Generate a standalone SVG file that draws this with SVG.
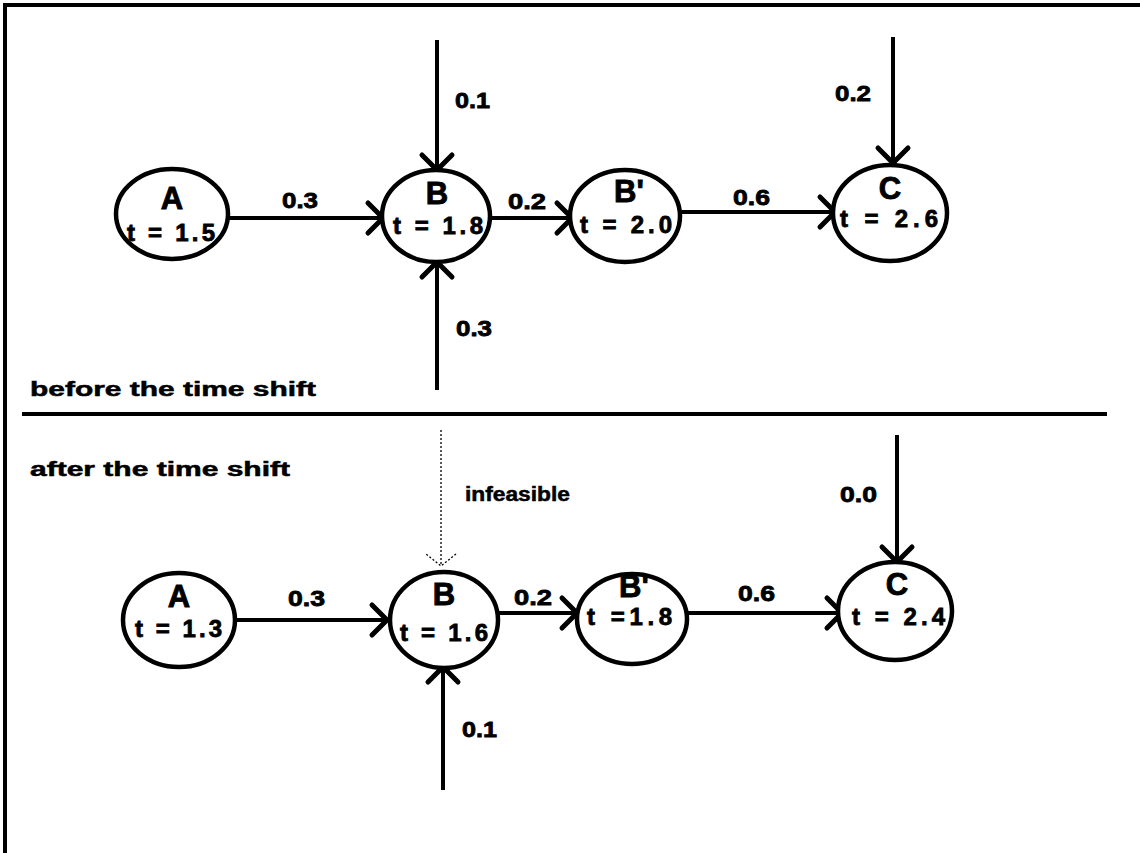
<svg xmlns="http://www.w3.org/2000/svg" width="1140" height="853" viewBox="0 0 1140 853">
  <style>
    .node ellipse { fill: #fff; stroke: #000; stroke-width: 4.5; }
    text { font-family: "Liberation Sans", Arial, sans-serif; font-weight: bold; fill: #000; stroke: #000; }
    .name { font-size: 31px; text-anchor: middle; stroke-width: 0.9; }
    .time { font-size: 24px; stroke-width: 0.8; }
    .lbl { font-size: 22px; stroke-width: 0.8; }
    .cap { font-size: 20px; stroke-width: 0.5; }
    .edge { fill: none; stroke: #000; stroke-width: 4; marker-end: url(#vee); }
    .dot { fill: none; stroke: #000; stroke-width: 1.3; stroke-dasharray: 2 2; marker-end: url(#veeThin); }
    .rule { stroke: #000; stroke-width: 4; }
  </style>
  <defs>
    <marker id="vee" markerUnits="userSpaceOnUse" viewBox="-20 -16 24 32" refX="0" refY="0" markerWidth="24" markerHeight="32" orient="auto" overflow="visible">
      <path d="M-15,-15 L0,0 L-15,15" fill="none" stroke="#000" stroke-width="5" stroke-linecap="round" stroke-linejoin="round"/>
    </marker>
    <marker id="veeThin" markerUnits="userSpaceOnUse" viewBox="-20 -16 24 32" refX="0" refY="0" markerWidth="24" markerHeight="32" orient="auto" overflow="visible">
      <path d="M-12,-15 L0,0 L-12,15" fill="none" stroke="#000" stroke-width="1.3" stroke-dasharray="2 2"/>
    </marker>
  </defs>

  <rect width="1140" height="853" fill="#fff"/>

  <!-- frame and section divider -->
  <g id="frame">
    <line class="rule" x1="3" y1="5" x2="1140" y2="5"/>
    <line class="rule" x1="5" y1="3" x2="5" y2="853"/>
    <line class="rule" x1="22" y1="414" x2="1107" y2="414"/>
    <text class="cap" x="30" y="396" textLength="286" lengthAdjust="spacingAndGlyphs">before the time shift</text>
    <text class="cap" x="30" y="476" textLength="260" lengthAdjust="spacingAndGlyphs">after the time shift</text>
  </g>

  <!-- connectors -->
  <g id="connectors">
    <!-- before the shift -->
    <line class="edge" x1="228" y1="218" x2="383" y2="218"/>
    <line class="edge" x1="490" y1="218" x2="572" y2="218"/>
    <line class="edge" x1="680" y1="212" x2="835" y2="212"/>
    <line class="edge" x1="437" y1="40" x2="437" y2="170"/>
    <line class="edge" x1="437" y1="390" x2="437" y2="262"/>
    <line class="edge" x1="893" y1="37" x2="893" y2="163"/>
    <text class="lbl" x="282" y="208" textLength="36" lengthAdjust="spacingAndGlyphs">0.3</text>
    <text class="lbl" x="508" y="209" textLength="38" lengthAdjust="spacingAndGlyphs">0.2</text>
    <text class="lbl" x="733" y="205" textLength="37" lengthAdjust="spacingAndGlyphs">0.6</text>
    <text class="lbl" x="455" y="108" textLength="35" lengthAdjust="spacingAndGlyphs">0.1</text>
    <text class="lbl" x="456" y="336" textLength="36" lengthAdjust="spacingAndGlyphs">0.3</text>
    <text class="lbl" x="835" y="101" textLength="36" lengthAdjust="spacingAndGlyphs">0.2</text>

    <!-- after the shift -->
    <line class="edge" x1="235" y1="620" x2="387" y2="620"/>
    <line class="edge" x1="498" y1="613" x2="577" y2="613"/>
    <line class="edge" x1="688" y1="613" x2="842" y2="613"/>
    <line class="edge" x1="897" y1="435" x2="897" y2="562"/>
    <line class="edge" x1="443" y1="790" x2="443" y2="667"/>
    <line class="dot" x1="441" y1="430" x2="441" y2="566"/>
    <text class="lbl" x="288" y="606" textLength="37" lengthAdjust="spacingAndGlyphs">0.3</text>
    <text class="lbl" x="514" y="605" textLength="38" lengthAdjust="spacingAndGlyphs">0.2</text>
    <text class="lbl" x="738" y="601" textLength="37" lengthAdjust="spacingAndGlyphs">0.6</text>
    <text class="lbl" x="840" y="502" textLength="37" lengthAdjust="spacingAndGlyphs">0.0</text>
    <text class="lbl" x="462" y="737" textLength="35" lengthAdjust="spacingAndGlyphs">0.1</text>
    <text class="cap" x="465" y="501" textLength="105" lengthAdjust="spacingAndGlyphs">infeasible</text>
  </g>

  <!-- nodes, before the shift -->
  <g id="nodeA1" class="node">
    <ellipse cx="172" cy="214" rx="56" ry="45"/>
    <text class="name" x="172" y="209">A</text>
    <text class="time" x="127" y="241" textLength="88" lengthAdjust="spacing">t = 1.5</text>
  </g>
  <g id="nodeB1" class="node">
    <ellipse cx="436" cy="216" rx="54" ry="46"/>
    <text class="name" x="437" y="204">B</text>
    <text class="time" x="393" y="234" textLength="90" lengthAdjust="spacing">t = 1.8</text>
  </g>
  <g id="nodeBp1" class="node">
    <ellipse cx="625" cy="216" rx="55" ry="46"/>
    <text class="name" x="629" y="202">B'</text>
    <text class="time" x="580" y="233" textLength="92" lengthAdjust="spacing">t = 2.0</text>
  </g>
  <g id="nodeC1" class="node">
    <ellipse cx="890" cy="213" rx="57" ry="48"/>
    <text class="name" x="890" y="199">C</text>
    <text class="time" x="840" y="227" textLength="98" lengthAdjust="spacing">t = 2.6</text>
  </g>

  <!-- nodes, after the shift -->
  <g id="nodeA2" class="node">
    <ellipse cx="179" cy="620" rx="56" ry="47"/>
    <text class="name" x="179" y="607">A</text>
    <text class="time" x="135" y="637" textLength="87" lengthAdjust="spacing">t = 1.3</text>
  </g>
  <g id="nodeB2" class="node">
    <ellipse cx="444" cy="620" rx="54" ry="48"/>
    <text class="name" x="444" y="605">B</text>
    <text class="time" x="400" y="641" textLength="88" lengthAdjust="spacing">t = 1.6</text>
  </g>
  <g id="nodeBp2" class="node">
    <ellipse cx="632" cy="619" rx="55" ry="45"/>
    <text class="name" x="634" y="597">B'</text>
    <text class="time" x="587" y="625" textLength="85" lengthAdjust="spacing">t =1.8</text>
  </g>
  <g id="nodeC2" class="node">
    <ellipse cx="895" cy="611" rx="57" ry="49"/>
    <text class="name" x="897" y="595">C</text>
    <text class="time" x="852" y="625" textLength="93" lengthAdjust="spacing">t = 2.4</text>
  </g>
</svg>
